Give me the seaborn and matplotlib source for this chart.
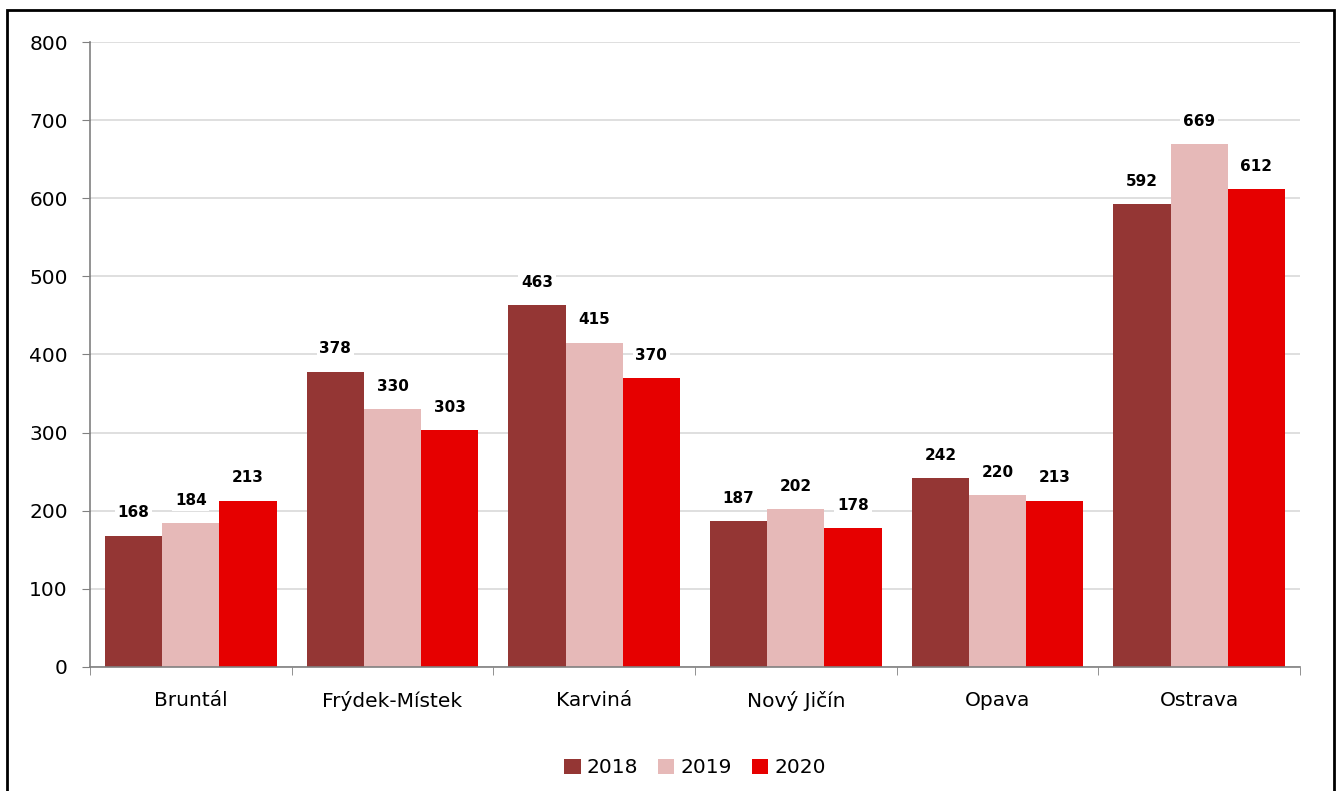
import pandas as pd
import matplotlib.pyplot as plt
import seaborn as sns
import numpy as np
from matplotlib.patches import Rectangle

# data
okresy = ['Bruntál', 'Frýdek-Místek', 'Karviná', 'Nový Jičín', 'Opava', 'Ostrava']
roky = ['2018', '2019', '2020']
hodnoty_2018 = [168, 378, 463, 187, 242, 592]
hodnoty_2019 = [184, 330, 415, 202, 220, 669]
hodnoty_2020 = [213, 303, 370, 178, 213, 612]
barvy = ['#943634', '#E6B9B8', '#E60000']

df = pd.DataFrame({
    'Okres': okresy * 3,
    'Rok': [r for r in roky for _ in okresy],
    'Hodnota': hodnoty_2018 + hodnoty_2019 + hodnoty_2020,
})

sns.set_style('white')
plt.rcParams['font.family'] = ['DejaVu Sans']
plt.rcParams['text.color'] = 'black'
plt.rcParams['xtick.labelcolor'] = 'black'
plt.rcParams['ytick.labelcolor'] = 'black'

fig = plt.figure(figsize=(13.41, 7.91), dpi=100)
ax = fig.add_axes([0.0671, 0.1568, 0.9023, 0.7901])

sns.barplot(data=df, x='Okres', y='Hodnota', hue='Rok', palette=barvy,
            width=0.85, saturation=1, linewidth=0, ax=ax, zorder=2)

for cont in ax.containers:
    ax.bar_label(cont, padding=11, fontsize=11, fontweight='bold', color='black',
                 bbox=dict(facecolor='white', edgecolor='none', pad=2), zorder=3)

ax.set_ylim(0, 800)
ax.set_xlim(-0.5, 5.5)
ax.set_yticks(np.arange(0, 801, 100))
ax.yaxis.grid(True, color='#d9d9d9', linewidth=1.2, zorder=0)
ax.set_axisbelow(True)
ax.set_xlabel('')
ax.set_ylabel('')

for s in ['top', 'right']:
    ax.spines[s].set_visible(False)
ax.spines['left'].set_color('#808080')
ax.spines['bottom'].set_color('#808080')
ax.spines['left'].set_linewidth(1.2)
ax.spines['bottom'].set_linewidth(1.2)

ax.tick_params(axis='y', length=6, color='#808080', labelsize=14.5, pad=10,
               left=True, labelcolor='black')
ax.tick_params(axis='x', which='major', length=0, labelsize=14.5, pad=17,
               labelcolor='black')
ax.set_xticks(np.arange(-0.5, 6, 1), minor=True)
ax.tick_params(axis='x', which='minor', length=6, color='#808080', bottom=True)

ax.legend(loc='upper center', bbox_to_anchor=(0.5, -0.117), ncol=3, frameon=False,
          fontsize=14.5, handlelength=0.8, handleheight=0.8, handletextpad=0.3,
          columnspacing=1.0, labelcolor='black')

# ramecek kolem grafu
fig.patches.append(Rectangle((7 / 1341, -0.05), 1327 / 1341, 1.05 - 10 / 791,
                             transform=fig.transFigure, fill=False,
                             edgecolor='black', linewidth=2))

fig.savefig('out.png', dpi=100)
